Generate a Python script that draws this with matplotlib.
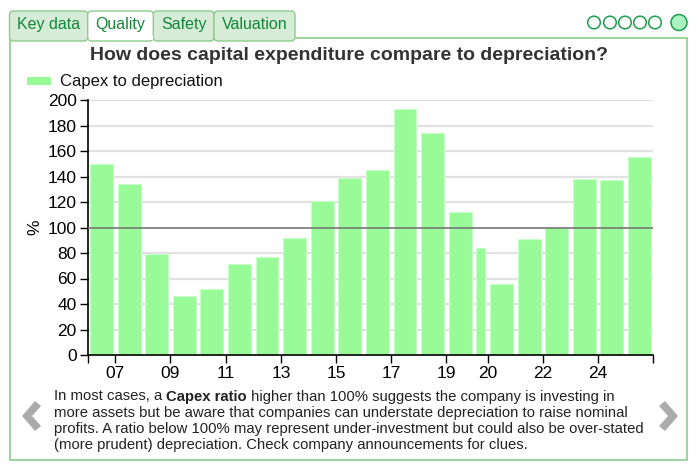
import matplotlib
matplotlib.use("Agg")
from matplotlib import pyplot as plt
from matplotlib.patches import Rectangle, FancyBboxPatch, Circle, Polygon

plt.rcParams['font.family'] = ['Liberation Sans', 'DejaVu Sans']

# fiscal periods (start, end as year fractions) and capex / depreciation in %
period_start = [2006, 2007, 2008, 2009, 2010, 2011, 2012, 2013, 2014, 2015, 2016,
                2017, 2018, 2019, 2020, 2020.5, 2021.5, 2022.5, 2023.5, 2024.5, 2025.5]
period_end = [2007, 2008, 2009, 2010, 2011, 2012, 2013, 2014, 2015, 2016, 2017,
              2018, 2019, 2020, 2020.5, 2021.5, 2022.5, 2023.5, 2024.5, 2025.5, 2026.5]
capex_ratio = [150, 134, 79, 46, 52, 71, 77, 92, 121, 139, 145,
               193, 174, 112, 84, 56, 91, 100, 138, 137, 155]

tick_pos = [2007, 2009, 2011, 2013, 2015, 2017, 2019, 2020.5, 2022.5, 2024.5]
tick_labels = ['07', '09', '11', '13', '15', '17', '19', '20', '22', '24']

green_txt = '#13883a'
border = '#8ccc8c'

fig = plt.figure(figsize=(7, 4.7), dpi=100)

# overlay in pixel coords for the widget frame
ov = fig.add_axes([0, 0, 1, 1], zorder=0)
ov.set_xlim(0, 700)
ov.set_ylim(470, 0)
ov.axis('off')

# panel
ov.add_patch(Rectangle((9.5, 38), 677, 422, fc='white', ec=border, lw=1.2))

# tabs
tabs = [('Key data', 9.5, 87.7), ('Quality', 87.7, 153.3), ('Safety', 153.3, 214), ('Valuation', 214, 295)]
for name, x0, x1 in tabs:
    active = name == 'Quality'
    ov.add_patch(FancyBboxPatch((x0, 11), x1 - x0, 30, boxstyle='round,pad=0,rounding_size=4',
                                fc='white' if active else '#d6ecd6', ec=border, lw=1.0,
                                zorder=2 if not active else 3))
    if active:
        ov.add_patch(Rectangle((x0 + 0.8, 36), x1 - x0 - 1.6, 4, fc='white', ec='none', zorder=4))
    ov.text((x0 + x1) / 2, 29.3, name, ha='center', va='baseline', fontsize=11.5,
            color=green_txt, zorder=5)

# page circles
for cx in [594, 610, 625, 640, 655]:
    ov.add_patch(Circle((cx, 22.5), 6.3, fc='white', ec='#1e9e50', lw=1.1))
ov.add_patch(Circle((679, 22.5), 8, fc='#aaf2c0', ec='#1e9e50', lw=1.1))

# title and legend
ov.text(349, 60, 'How does capital expenditure compare to depreciation?', ha='center',
        va='baseline', fontsize=14, fontweight='bold', color='#333333')
ov.add_patch(Rectangle((27, 77), 24, 8, fc='#98fb98', ec='none'))
ov.text(60, 86, 'Capex to depreciation', ha='left', va='baseline', fontsize=12, color='#111111')

# arrows
ov.add_patch(Polygon([(35, 401), (22, 416), (35, 431), (41, 426), (32, 416), (41, 406)],
                     closed=True, fc='#ababab', ec='none'))
ov.add_patch(Polygon([(665, 401), (678, 416), (665, 431), (659, 426), (668, 416), (659, 406)],
                     closed=True, fc='#ababab', ec='none'))

# footer text
fs = 10.7
tc = '#222222'
t1 = ov.text(54, 400.5, 'In most cases, a ', ha='left', va='baseline', fontsize=fs, color=tc)
t2 = ov.annotate('Capex ratio', xy=(1, 0), xycoords=t1, ha='left', va='bottom',
                 fontsize=fs, fontweight='bold', color=tc)
ov.annotate(' higher than 100% suggests the company is investing in', xy=(1, 0), xycoords=t2,
            ha='left', va='bottom', fontsize=fs, color=tc)
lines = ['more assets but be aware that companies can understate depreciation to raise nominal',
         'profits. A ratio below 100% may represent under-investment but could also be over-stated',
         '(more prudent) depreciation. Check company announcements for clues.']
for i, ln in enumerate(lines):
    ov.text(54, 416.8 + i * 16.3, ln, ha='left', va='baseline', fontsize=fs, color=tc)

# main chart
ax = fig.add_axes([87.7 / 700, 1 - 355 / 470, (653.3 - 87.7) / 700, 255 / 470], zorder=1)
ax.patch.set_alpha(0)
gap = 0.085
lefts = [s + gap for s in period_start]
widths = [e - s - 2 * gap for s, e in zip(period_start, period_end)]
ax.bar(lefts, capex_ratio, width=widths, align='edge', color='#98fb98',
       edgecolor='#c8ffc8', linewidth=0.8, zorder=2)
for v in range(20, 201, 20):
    if v != 100:
        ax.axhline(v, color='#e2e2e2', lw=1.6, zorder=1)
ax.axhline(100, color='#777777', lw=1.2, zorder=3)

ax.set_xlim(2006, 2026.5)
ax.set_ylim(0, 200)
ax.set_yticks(range(0, 201, 20))
ax.set_xticks([2006] + tick_pos + [2026.5])
ax.set_xticklabels([''] + tick_labels + [''])
ax.tick_params(axis='both', direction='out', length=6, width=1, labelsize=12.5, colors='black')
ax.tick_params(axis='x', pad=2)
ax.tick_params(axis='y', pad=2)
for s in ['top', 'right']:
    ax.spines[s].set_visible(False)
for s in ['left', 'bottom']:
    ax.spines[s].set_linewidth(1.2)
ax.set_ylabel('%', fontsize=12.5, labelpad=4)

plt.savefig('out.png', dpi=100)
